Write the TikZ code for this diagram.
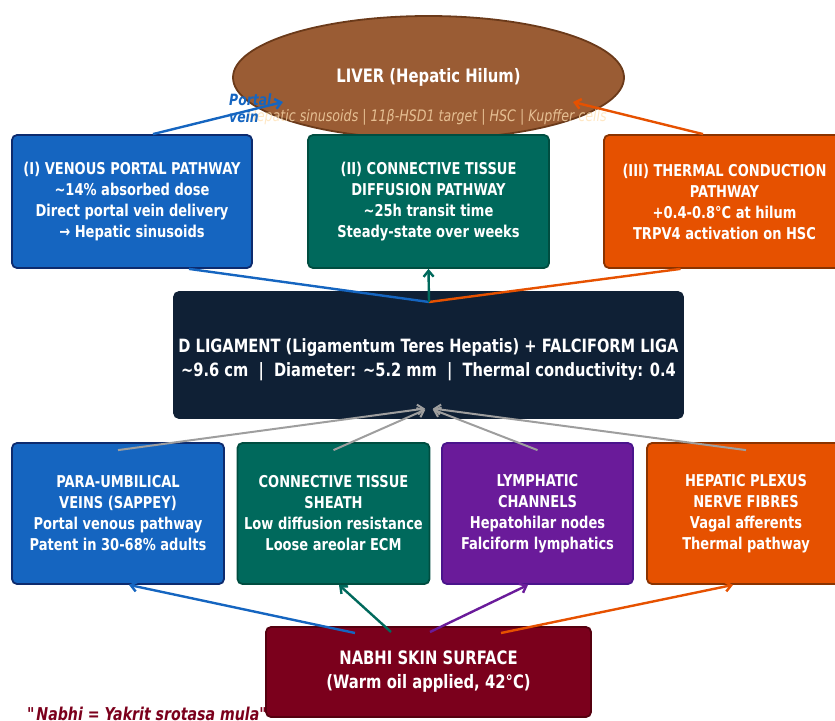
\documentclass[tikz,border=0pt]{standalone}
\usepackage{fontspec}
\setsansfont{DejaVu Sans}[FakeStretch=0.8]
\usetikzlibrary{arrows.meta, shapes.geometric}

\definecolor{portalblue}{HTML}{1565C0}
\definecolor{portaledge}{HTML}{0D2B6E}
\definecolor{tissueteal}{HTML}{00695C}
\definecolor{tissueedge}{HTML}{004D40}
\definecolor{heatorange}{HTML}{E65100}
\definecolor{heatedge}{HTML}{8A3300}
\definecolor{lymphpurple}{HTML}{6A1B9A}
\definecolor{lymphedge}{HTML}{4A148C}
\definecolor{ligamentnavy}{HTML}{0F2035}
\definecolor{nabhired}{HTML}{7B001C}
\definecolor{nabhiedge}{HTML}{55000F}
\definecolor{liverbrown}{HTML}{9A5C34}
\definecolor{liveredge}{HTML}{6B3A1A}
\definecolor{sinusoidpeach}{HTML}{FFE0B2}
\definecolor{feedgray}{HTML}{9E9E9E}

\newcommand{\boxsize}{\fontsize{16.3}{21}\selectfont}
\newcommand{\bigsize}{\fontsize{18.5}{24}\selectfont}

\begin{document}
\begin{tikzpicture}[x=1pt, y=-1pt, font=\sffamily\bfseries,
		>={Straight Barb[length=6pt, width=10pt]},
		main/.style = {draw, rounded corners=5pt, line width=1.8pt, text=white, align=center, inner sep=0pt, font=\sffamily\bfseries\boxsize},
		link/.style = {line width=2.4pt},
		feed/.style = {->, line width=2pt, feedgray, shorten >=4pt}]
			\useasboundingbox (0,0) rectangle (835,720);
			
			\node[ellipse, draw=liveredge, fill=liverbrown, line width=1.8pt, minimum width=391pt, minimum height=123pt, text=white, font=\sffamily\bfseries\bigsize] (liver) at (428.5,77.5) {LIVER (Hepatic Hilum)};
			\node[text=sinusoidpeach, text opacity=0.75, font=\sffamily\mdseries\itshape\fontsize{15.8}{18}\selectfont] (liversub) at (427,117.5) {Hepatic sinusoids | 11β-HSD1 target | HSC | Kupffer cells};
			\node[anchor=west, align=left, inner sep=0pt, text=portalblue, font=\sffamily\bfseries\itshape\fontsize{15.5}{17}\selectfont] (portalvein) at (229,108.5) {Portal\\vein};
			
			\node[main, fill=portalblue, draw=portaledge, minimum width=240pt, minimum height=133pt] (venous) at (132,201.5) {(I) VENOUS PORTAL PATHWAY\\\textasciitilde14\% absorbed dose\\Direct portal vein delivery\\→ Hepatic sinusoids};
			\node[main, fill=tissueteal, draw=tissueedge, minimum width=241pt, minimum height=133pt] (diffusion) at (428.5,201.5) {(II) CONNECTIVE TISSUE\\DIFFUSION PATHWAY\\\textasciitilde25h transit time\\Steady-state over weeks};
			\node[main, fill=heatorange, draw=heatedge, minimum width=241pt, minimum height=133pt] (thermal) at (724.5,201.5) {(III) THERMAL CONDUCTION\\PATHWAY\\+0.4-0.8°C at hilum\\TRPV4 activation on HSC};
			
			\node[main, fill=ligamentnavy, draw=ligamentnavy, minimum width=509pt, minimum height=126pt] (ligament) at (428.5,355) {};
			\node[text=white, align=center, font=\sffamily\bfseries\fontsize{18.3}{24}\selectfont] (ligamenttext) at (428.5,360) {D LIGAMENT (Ligamentum Teres Hepatis) + FALCIFORM LIGA\\\textasciitilde9.6 cm\ \ |\ \ Diameter: \textasciitilde5.2 mm\ \ |\ \ Thermal conductivity: 0.4};
			
			\node[main, fill=portalblue, draw=portaledge, minimum width=212pt, minimum height=141pt] (paraumb) at (118,513.5) {PARA-UMBILICAL\\VEINS (SAPPEY)\\Portal venous pathway\\Patent in 30-68\% adults};
			\node[main, fill=tissueteal, draw=tissueedge, minimum width=192pt, minimum height=141pt] (sheath) at (333.5,513.5) {CONNECTIVE TISSUE\\SHEATH\\Low diffusion resistance\\Loose areolar ECM};
			\node[main, fill=lymphpurple, draw=lymphedge, minimum width=191pt, minimum height=141pt] (lymph) at (537.5,513.5) {LYMPHATIC\\CHANNELS\\Hepatohilar nodes\\Falciform lymphatics};
			\node[main, fill=heatorange, draw=heatedge, minimum width=198pt, minimum height=141pt] (plexus) at (746,513.5) {HEPATIC PLEXUS\\NERVE FIBRES\\Vagal afferents\\Thermal pathway};
			
			\node[anchor=base west, inner sep=0pt, text=nabhired, font=\sffamily\bfseries\itshape\fontsize{17.7}{20}\selectfont] (motto) at (27,720) {\textquotedbl Nabhi = Yakrit srotasa mula\textquotedbl};
			\node[main, fill=nabhired, draw=nabhiedge, minimum width=325pt, minimum height=90pt, font=\sffamily\bfseries\bigsize] (nabhi) at (428.5,672) {NABHI SKIN SURFACE\\(Warm oil applied, 42°C)};
			
			\coordinate (hilumwest) at (283,102);
			\coordinate (hilumeast) at (573,102);
			\coordinate (hubtop) at (429,302);
			\coordinate (hubbottom) at (429,408);
			\coordinate (nabhiveins) at (355,633);
			\coordinate (nabhisheath) at (391,632);
			\coordinate (nabhilymph) at (430,632);
			\coordinate (nabhinerve) at (501,633);
			
			\draw[link, ->, portalblue] ([xshift=21pt]venous.north) -- (hilumwest);
			\draw[link, ->, heatorange] ([xshift=-21.5pt]thermal.north) -- (hilumeast);
			
			\draw[link, portalblue] ([xshift=57pt]venous.south) -- (hubtop);
			\draw[link, heatorange] ([xshift=-44pt]thermal.south) -- (hubtop);
			\draw[link, ->, tissueteal] (hubtop) -- (diffusion.south);
			
			\draw[feed] ([yshift=-8pt]paraumb.north) -- (hubbottom);
			\draw[feed] ([yshift=-8pt]sheath.north) -- (hubbottom);
			\draw[feed] ([yshift=-8pt]lymph.north) -- (hubbottom);
			\draw[feed] ([yshift=-8pt]plexus.north) -- (hubbottom);
			
			\draw[link, ->, portalblue] (nabhiveins) -- ([xshift=11pt]paraumb.south);
			\draw[link, ->, tissueteal] (nabhisheath) -- ([xshift=5.5pt]sheath.south);
			\draw[link, ->, lymphpurple] (nabhilymph) -- ([xshift=-9.5pt]lymph.south);
			\draw[link, ->, heatorange] (nabhinerve) -- ([xshift=-13pt]plexus.south);
		\end{tikzpicture}
\end{document}
